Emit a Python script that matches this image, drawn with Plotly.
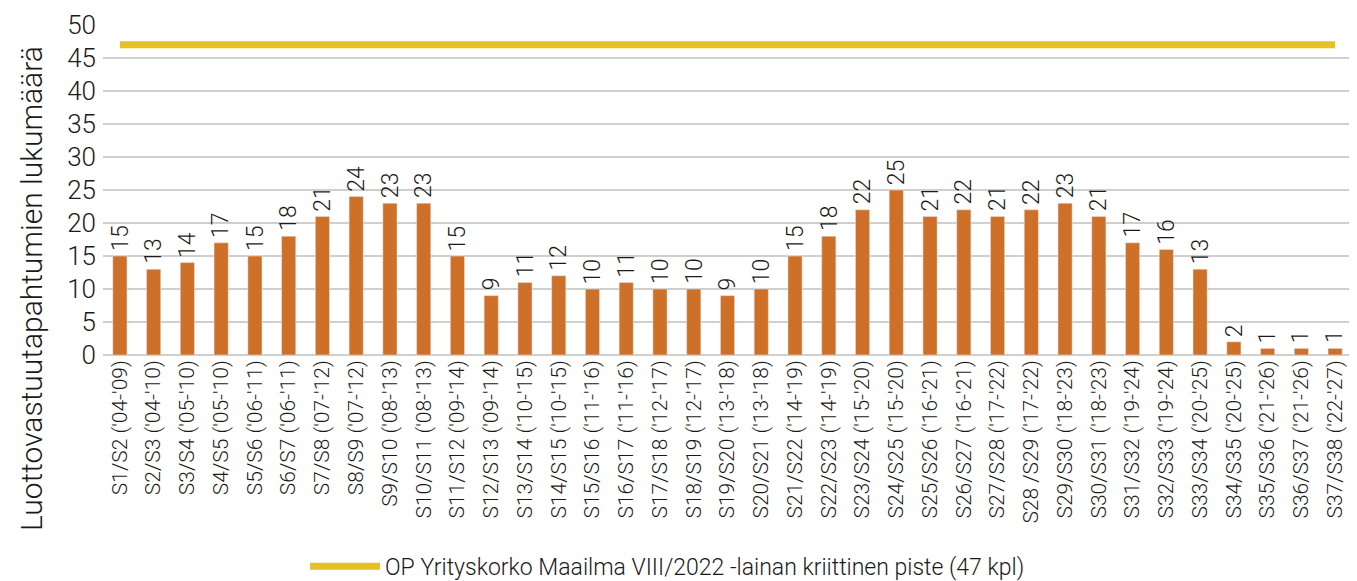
import plotly.graph_objects as go

categories = [
    "S1/S2 ('04-'09)", "S2/S3 ('04-'10)", "S3/S4 ('05-'10)", "S4/S5 ('05-'10)",
    "S5/S6 ('06-'11)", "S6/S7 ('06-'11)", "S7/S8 ('07-'12)", "S8/S9 ('07-'12)",
    "S9/S10 ('08-'13)", "S10/S11 ('08-'13)", "S11/S12 ('09-'14)", "S12/S13 ('09-'14)",
    "S13/S14 ('10-'15)", "S14/S15 ('10-'15)", "S15/S16 ('11-'16)", "S16/S17 ('11-'16)",
    "S17/S18 ('12-'17)", "S18/S19 ('12-'17)", "S19/S20 ('13-'18)", "S20/S21 ('13-'18)",
    "S21/S22 ('14-'19)", "S22/S23 ('14-'19)", "S23/S24 ('15-'20)", "S24/S25 ('15-'20)",
    "S25/S26 ('16-'21)", "S26/S27 ('16-'21)", "S27/S28 ('17-'22)", "S28 /S29 ('17-'22)",
    "S29/S30 ('18-'23)", "S30/S31 ('18-'23)", "S31/S32 ('19-'24)", "S32/S33 ('19-'24)",
    "S33/S34 ('20-'25)", "S34/S35 ('20-'25)", "S35/S36 ('21-'26)", "S36/S37 ('21-'26)",
    "S37/S38 ('22-'27)",
]
events = [15, 13, 14, 17, 15, 18, 21, 24, 23, 23,
          15, 9, 11, 12, 10, 11, 10, 10, 9, 10,
          15, 18, 22, 25, 21, 22, 21, 22, 23, 21,
          17, 16, 13, 2, 1, 1, 1]
critical_point = 47
critical_name = "OP Yrityskorko Maailma VIII/2022 -lainan kriittinen piste (47 kpl)"
y_title = "Luottovastuutapahtumien lukumäärä"
y_ticks = [0, 5, 10, 15, 20, 25, 30, 35, 40, 45, 50]

FONT = "Roboto, sans-serif"
TXT = "#1a1a1a"
W = 300

fig = go.Figure()
fig.add_trace(go.Bar(
    x=categories, y=events,
    marker=dict(color="#CF7029"),
    showlegend=False,
))
fig.add_trace(go.Scatter(
    x=categories, y=[critical_point] * len(categories),
    mode="lines",
    line=dict(color="#E5C126", width=7),
    name=critical_name,
    showlegend=True,
))

for c, v in zip(categories, events):
    fig.add_annotation(
        x=c, y=v, text=str(v), textangle=-90, showarrow=False,
        yanchor="bottom", yshift=3,
        font=dict(size=23, family=FONT, color=TXT, weight=W),
    )

# page body has an 8px margin: figure area starts at (8, 8)
fig.add_annotation(
    xref="paper", yref="paper", x=-0.0577, y=0.203, xanchor="center", yanchor="middle",
    text=y_title, textangle=-90, showarrow=False,
    font=dict(size=30, family=FONT, color=TXT, weight=W),
)

fig.update_layout(
    width=1349, height=573,
    margin=dict(l=95, r=5, t=17, b=226, autoexpand=False),
    plot_bgcolor="white", paper_bgcolor="white",
    bargap=0.58,
    font=dict(family=FONT, color=TXT, weight=W),
    legend=dict(
        orientation="h", x=0.452, xanchor="center", y=-0.64, yanchor="middle",
        font=dict(size=23, family=FONT, weight=W), itemwidth=70,
    ),
    xaxis=dict(
        tickangle=-90, tickfont=dict(size=21, family=FONT, weight=W),
        showgrid=False, showline=False, ticks="", automargin=False,
    ),
    yaxis=dict(
        range=[0, 50], tickvals=y_ticks,
        tickfont=dict(size=26, family=FONT, weight=W),
        gridcolor="#cfcfcf", gridwidth=1.5,
        zeroline=True, zerolinecolor="#cfcfcf", zerolinewidth=1.5,
        automargin=False,
        ticklabelstandoff=6,
    ),
)
fig.write_html("out.html")
